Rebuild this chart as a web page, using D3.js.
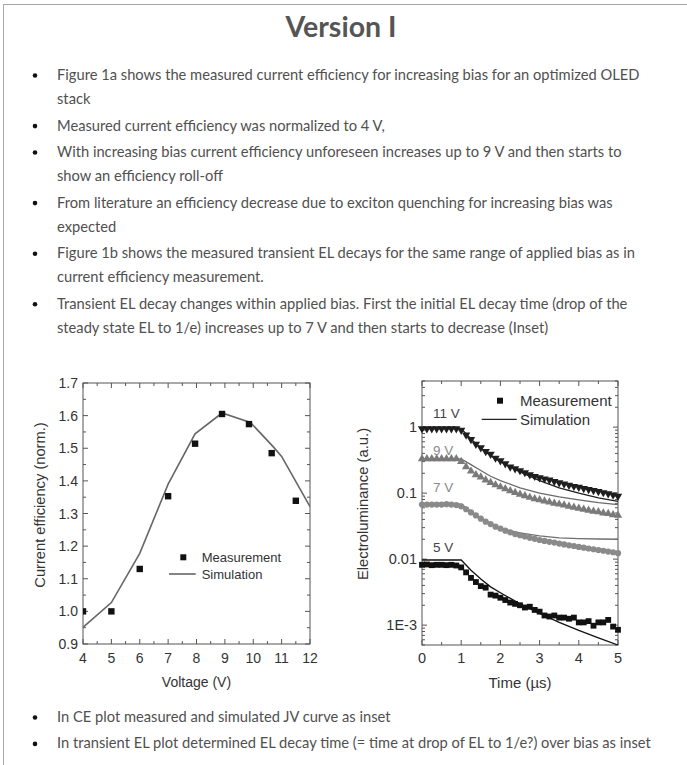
<!DOCTYPE html>
<html>
<head>
<meta charset="utf-8">
<script src="https://cdn.jsdelivr.net/npm/d3@7"></script>
<style>
  body { margin: 0; background: #fff; }
  svg { display: block; }
</style>
</head>
<body>
<div class="svg-container"></div>
<script>
// slide text
const titleText = 'Version I';
const bulletsTop = [
  ['Figure 1a shows the measured current efficiency for increasing bias for an optimized OLED', 'stack'],
  ['Measured current efficiency was normalized to 4 V,'],
  ['With increasing bias current efficiency unforeseen increases up to 9 V and then starts to', 'show an efficiency roll-off'],
  ['From literature an efficiency decrease due to exciton quenching for increasing bias was', 'expected'],
  ['Figure 1b shows the measured transient EL decays for the same range of applied bias as in', 'current efficiency measurement.'],
  ['Transient EL decay changes within applied bias. First the initial EL decay time (drop of the', 'steady state EL to 1/e) increases up to 7 V and then starts to decrease (Inset)']
];
const bulletsBottom = [
  'In CE plot measured and simulated JV curve as inset',
  'In transient EL plot determined EL decay time (= time at drop of EL to 1/e?) over bias as inset'
];

// figure 1a: current efficiency
const ceVoltMeas = [4, 5, 6, 7, 7.95, 8.9, 9.85, 10.65, 11.5];
const ceMeas = [1.00, 1.00, 1.13, 1.353, 1.514, 1.605, 1.574, 1.485, 1.339];
const ceVoltSim = [4, 5, 6, 7, 7.95, 8.9, 9.9, 10.7, 11.0, 12];
const ceSim = [0.951, 1.027, 1.178, 1.39, 1.544, 1.608, 1.579, 1.505, 1.475, 1.321];
const ceXTicks = [4, 5, 6, 7, 8, 9, 10, 11, 12];
const ceYTicks = [0.9, 1.0, 1.1, 1.2, 1.3, 1.4, 1.5, 1.6, 1.7];

// figure 1b: transient EL
const elTime = [0, 0.125, 0.25, 0.375, 0.5, 0.625, 0.75, 0.875, 1.0, 1.125, 1.25, 1.375, 1.5,
  1.625, 1.75, 1.875, 2.0, 2.125, 2.25, 2.375, 2.5, 2.625, 2.75, 2.875, 3.0, 3.125, 3.25,
  3.375, 3.5, 3.625, 3.75, 3.875, 4.0, 4.125, 4.25, 4.375, 4.5, 4.625, 4.75, 4.875, 5.0];
const el11V = [0.95, 0.95, 0.95, 0.95, 0.95, 0.95, 0.95, 0.95, 0.90, 0.76, 0.65, 0.55, 0.49,
  0.43, 0.39, 0.34, 0.31, 0.28, 0.25, 0.235, 0.22, 0.205, 0.19, 0.18, 0.172, 0.165, 0.158,
  0.15, 0.144, 0.138, 0.132, 0.127, 0.123, 0.118, 0.114, 0.11, 0.106, 0.102, 0.098, 0.094, 0.09];
const el9V = [0.33, 0.33, 0.33, 0.33, 0.33, 0.33, 0.33, 0.33, 0.30, 0.25, 0.215, 0.19, 0.175,
  0.158, 0.145, 0.133, 0.124, 0.116, 0.108, 0.102, 0.096, 0.091, 0.086, 0.082, 0.079, 0.076,
  0.073, 0.07, 0.068, 0.066, 0.063, 0.061, 0.059, 0.057, 0.055, 0.053, 0.052, 0.05, 0.049, 0.047, 0.046];
const el7V = [0.067, 0.067, 0.067, 0.067, 0.067, 0.068, 0.067, 0.066, 0.063, 0.057, 0.051, 0.046,
  0.041, 0.037, 0.034, 0.031, 0.029, 0.027, 0.0255, 0.024, 0.023, 0.022, 0.021, 0.0203, 0.0195,
  0.0189, 0.0183, 0.0178, 0.0172, 0.0167, 0.0162, 0.0158, 0.0153, 0.0149, 0.0145, 0.0141,
  0.0137, 0.0134, 0.013, 0.0127, 0.0123];
const el5V = [0.0082, 0.0083, 0.0081, 0.0082, 0.0082, 0.0081, 0.0082, 0.008, 0.0075, 0.0063,
  0.0052, 0.0045, 0.0039, 0.0037, 0.0029, 0.0028, 0.0026, 0.0024, 0.0022, 0.0021, 0.002,
  0.00185, 0.0019, 0.0017, 0.0016, 0.0014, 0.00135, 0.0014, 0.0013, 0.0013, 0.00125, 0.0013,
  0.0011, 0.0011, 0.00115, 0.00098, 0.0011, 0.0011, 0.0012, 0.00095, 0.00085];

const simTime = [0, 1, 1.25, 1.5, 1.75, 2, 2.5, 3, 3.5, 4, 4.5, 5];
const sim11V = [0.95, 0.95, 0.66, 0.48, 0.37, 0.30, 0.21, 0.155, 0.12, 0.1, 0.085, 0.075];
const sim9V = [0.33, 0.33, 0.27, 0.22, 0.18, 0.155, 0.12, 0.1, 0.088, 0.079, 0.072, 0.067];
const sim7V = [0.068, 0.068, 0.053, 0.042, 0.034, 0.029, 0.025, 0.0225, 0.021, 0.0205, 0.0202, 0.02];
const sim5V = [0.0097, 0.0097, 0.0068, 0.005, 0.0038, 0.0031, 0.0021, 0.0015, 0.0011, 0.00083, 0.00064, 0.0005];

const elXTicks = [0, 1, 2, 3, 4, 5];
const elYTicks = [1e-3, 0.01, 0.1, 1];
const elYLabels = ['1E-3', '0.01', '0.1', '1'];

// series styling
const elSeries = [
  { label: '11 V', meas: el11V, sim: sim11V, symbol: 'down', colour: '#1e1e1e', line: '#1e1e1e', labelColour: '#444', labelY: 418 },
  { label: '9 V', meas: el9V, sim: sim9V, symbol: 'up', colour: '#7a7a7a', line: '#6a6a6a', labelColour: '#8a8a8a', labelY: 455 },
  { label: '7 V', meas: el7V, sim: sim7V, symbol: 'circle', colour: '#8a8a8a', line: '#707070', labelColour: '#8a8a8a', labelY: 492 },
  { label: '5 V', meas: el5V, sim: sim5V, symbol: 'square', colour: '#111', line: '#111', labelColour: '#444', labelY: 552 }
];

const width = 687;
const height = 765;
const textFont = 'Lato, "Open Sans", sans-serif';
const chartFont = '"Liberation Sans", Arial, sans-serif';

const svg = d3.select('.svg-container')
  .append('svg')
  .attr('width', width)
  .attr('height', height);

// slide frame
svg.append('line').attr('x1', 3.5).attr('x2', 3.5).attr('y1', 4).attr('y2', height)
  .attr('stroke', '#a8a8a8').attr('stroke-width', 1);
svg.append('line').attr('x1', 3).attr('x2', width).attr('y1', 4.5).attr('y2', 4.5)
  .attr('stroke', '#a8a8a8').attr('stroke-width', 1);

// title
svg.append('text')
  .attr('x', 341)
  .attr('y', 37)
  .attr('text-anchor', 'middle')
  .style('font-family', textFont)
  .style('font-size', '28.5px')
  .style('font-weight', 'bold')
  .style('fill', '#555')
  .text(titleText);

// bullet list
function drawBullets(list, startY) {
  let y = startY;
  list.forEach(lines => {
    const rows = Array.isArray(lines) ? lines : [lines];
    svg.append('circle').attr('cx', 35).attr('cy', y - 4.5).attr('r', 2.3).attr('fill', '#111');
    rows.forEach(row => {
      svg.append('text')
        .attr('x', 57)
        .attr('y', y)
        .style('font-family', textFont)
        .style('font-size', '14.7px')
        .style('fill', '#505050')
        .text(row);
      y += 24.2;
    });
    y += 2.2;
  });
}
drawBullets(bulletsTop, 80);
drawBullets(bulletsBottom, 722);

// generic framed axes with inward ticks on all four sides
function drawFrame(g, x, y, majorX, minorX, majorY, minorY, w, h) {
  const tickGroup = g.append('g').attr('stroke', '#555').attr('stroke-width', 1);
  majorX.forEach(v => {
    tickGroup.append('line').attr('x1', x(v)).attr('x2', x(v)).attr('y1', h).attr('y2', h - 5);
    tickGroup.append('line').attr('x1', x(v)).attr('x2', x(v)).attr('y1', 0).attr('y2', 5);
  });
  minorX.forEach(v => {
    tickGroup.append('line').attr('x1', x(v)).attr('x2', x(v)).attr('y1', h).attr('y2', h - 3);
    tickGroup.append('line').attr('x1', x(v)).attr('x2', x(v)).attr('y1', 0).attr('y2', 3);
  });
  majorY.forEach(v => {
    tickGroup.append('line').attr('y1', y(v)).attr('y2', y(v)).attr('x1', 0).attr('x2', 5);
    tickGroup.append('line').attr('y1', y(v)).attr('y2', y(v)).attr('x1', w).attr('x2', w - 5);
  });
  minorY.forEach(v => {
    tickGroup.append('line').attr('y1', y(v)).attr('y2', y(v)).attr('x1', 0).attr('x2', 3);
    tickGroup.append('line').attr('y1', y(v)).attr('y2', y(v)).attr('x1', w).attr('x2', w - 3);
  });
  g.append('rect')
    .attr('width', w).attr('height', h)
    .attr('fill', 'none').attr('stroke', '#555').attr('stroke-width', 1);
}

// ---------- figure 1a ----------
const ceBox = { left: 83, top: 383, width: 227, height: 261 };
const ceX = d3.scaleLinear().domain([4, 12]).range([0, ceBox.width]);
const ceY = d3.scaleLinear().domain([0.9, 1.7]).range([ceBox.height, 0]);

const ce = svg.append('g').attr('transform', `translate(${ceBox.left},${ceBox.top})`);
svg.append('clipPath').attr('id', 'ce-clip')
  .append('rect').attr('width', ceBox.width).attr('height', ceBox.height);

const ceMinorX = d3.range(4.5, 12, 1);
const ceMinorY = d3.range(0.95, 1.7, 0.1);
drawFrame(ce, ceX, ceY, ceXTicks, ceMinorX, ceYTicks, ceMinorY, ceBox.width, ceBox.height);

const cePlot = ce.append('g').attr('clip-path', 'url(#ce-clip)');
cePlot.append('path')
  .datum(ceVoltSim.map((v, i) => [v, ceSim[i]]))
  .attr('d', d3.line().x(d => ceX(d[0])).y(d => ceY(d[1])))
  .attr('fill', 'none').attr('stroke', '#666').attr('stroke-width', 1.6);
cePlot.selectAll('rect.meas')
  .data(ceVoltMeas.map((v, i) => [v, ceMeas[i]]))
  .enter().append('rect')
  .attr('class', 'meas')
  .attr('x', d => ceX(d[0]) - 3.2).attr('y', d => ceY(d[1]) - 3.2)
  .attr('width', 6.4).attr('height', 6.4).attr('fill', '#111');

ce.selectAll('text.xt').data(ceXTicks).enter().append('text')
  .attr('x', d => ceX(d)).attr('y', ceBox.height + 19)
  .attr('text-anchor', 'middle')
  .style('font-family', chartFont).style('font-size', '14px').style('fill', '#333')
  .text(d => d);
ce.selectAll('text.yt').data(ceYTicks).enter().append('text')
  .attr('x', -5).attr('y', d => ceY(d) + 5)
  .attr('text-anchor', 'end')
  .style('font-family', chartFont).style('font-size', '14px').style('fill', '#333')
  .text(d => d3.format('.1f')(d));

ce.append('text')
  .attr('x', ceBox.width / 2).attr('y', ceBox.height + 43)
  .attr('text-anchor', 'middle')
  .style('font-family', chartFont).style('font-size', '14px').style('fill', '#333')
  .text('Voltage (V)');
ce.append('text')
  .attr('transform', `translate(-38,122) rotate(-90)`)
  .attr('text-anchor', 'middle')
  .style('font-family', chartFont).style('font-size', '14.7px').style('fill', '#333')
  .text('Current efficiency (norm.)');

// legend 1a
ce.append('rect').attr('x', 100.3 - 3).attr('y', 174.3 - 3).attr('width', 6).attr('height', 6).attr('fill', '#111');
ce.append('text').attr('x', 118.7).attr('y', 179)
  .style('font-family', chartFont).style('font-size', '13px').style('fill', '#333')
  .text('Measurement');
ce.append('line').attr('x1', 86).attr('x2', 112.7).attr('y1', 191).attr('y2', 191)
  .attr('stroke', '#666').attr('stroke-width', 1.6);
ce.append('text').attr('x', 118.7).attr('y', 195.7)
  .style('font-family', chartFont).style('font-size', '13px').style('fill', '#333')
  .text('Simulation');

// ---------- figure 1b ----------
const elBox = { left: 422, top: 381, width: 196, height: 264 };
const elX = d3.scaleLinear().domain([0, 5]).range([0, elBox.width]);
const elY = d3.scaleLog().domain([5e-4, 5]).range([elBox.height, 0]);

const el = svg.append('g').attr('transform', `translate(${elBox.left},${elBox.top})`);
svg.append('clipPath').attr('id', 'el-clip')
  .append('rect').attr('x', -4).attr('y', -4).attr('width', elBox.width + 8).attr('height', elBox.height + 4);

const elMinorX = d3.range(0.5, 5, 1);
const elMinorY = elY.ticks().filter(v => !elYTicks.some(t => Math.abs(t - v) / t < 1e-6));
drawFrame(el, elX, elY, elXTicks, elMinorX, elYTicks, elMinorY, elBox.width, elBox.height);

const symbolType = {
  down: d3.symbolTriangle,
  up: d3.symbolTriangle,
  circle: d3.symbolCircle,
  square: d3.symbolSquare
};
const symbolSize = { down: 30, up: 30, circle: 30, square: 34 };

const elPlot = el.append('g').attr('clip-path', 'url(#el-clip)');
elSeries.forEach(s => {
  elPlot.append('path')
    .datum(simTime.map((t, i) => [t, s.sim[i]]))
    .attr('d', d3.line().x(d => elX(d[0])).y(d => elY(d[1])))
    .attr('fill', 'none').attr('stroke', s.line).attr('stroke-width', 1.3);
});
elSeries.forEach(s => {
  elPlot.selectAll(null)
    .data(elTime.map((t, i) => [t, s.meas[i]]))
    .enter().append('path')
    .attr('d', d3.symbol().type(symbolType[s.symbol]).size(symbolSize[s.symbol]))
    .attr('transform', d => `translate(${elX(d[0])},${elY(d[1])})${s.symbol === 'down' ? ' rotate(180)' : ''}`)
    .attr('fill', s.colour);
  el.append('text')
    .attr('x', 11).attr('y', s.labelY - elBox.top)
    .style('font-family', chartFont).style('font-size', '13.5px').style('fill', s.labelColour)
    .text(s.label);
});

el.selectAll('text.xt').data(elXTicks).enter().append('text')
  .attr('x', d => elX(d)).attr('y', elBox.height + 18)
  .attr('text-anchor', 'middle')
  .style('font-family', chartFont).style('font-size', '14.5px').style('fill', '#333')
  .text(d => d);
el.selectAll('text.yt').data(elYTicks).enter().append('text')
  .attr('x', -5).attr('y', d => elY(d) + 5)
  .attr('text-anchor', 'end')
  .style('font-family', chartFont).style('font-size', '14.5px').style('fill', '#333')
  .text((d, i) => elYLabels[i]);

el.append('text')
  .attr('x', elBox.width / 2).attr('y', elBox.height + 43)
  .attr('text-anchor', 'middle')
  .style('font-family', chartFont).style('font-size', '15px').style('fill', '#333')
  .text('Time (\u00b5s)');
el.append('text')
  .attr('transform', `translate(-54,123) rotate(-90)`)
  .attr('text-anchor', 'middle')
  .style('font-family', chartFont).style('font-size', '14.8px').style('fill', '#333')
  .text('Electroluminance (a.u.)');

// legend 1b
el.append('rect').attr('x', 78 - 3).attr('y', 19.7 - 3).attr('width', 6).attr('height', 6).attr('fill', '#111');
el.append('text').attr('x', 98).attr('y', 25)
  .style('font-family', chartFont).style('font-size', '15px').style('fill', '#333')
  .text('Measurement');
el.append('line').attr('x1', 59.7).attr('x2', 94.7).attr('y1', 38.3).attr('y2', 38.3)
  .attr('stroke', '#222').attr('stroke-width', 1.3);
el.append('text').attr('x', 98).attr('y', 43.5)
  .style('font-family', chartFont).style('font-size', '15px').style('fill', '#333')
  .text('Simulation');
</script>
</body>
</html>
